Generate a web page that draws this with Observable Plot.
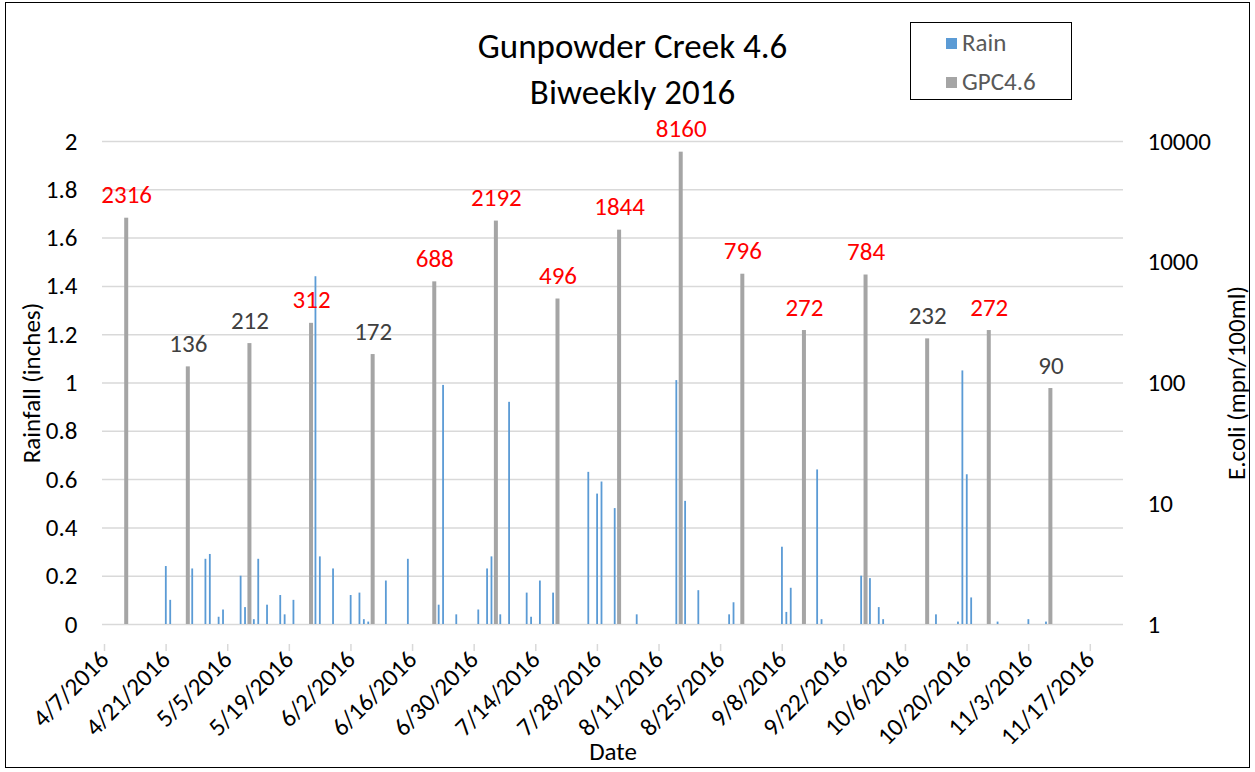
<!DOCTYPE html>
<html><head><meta charset="utf-8">
<script src="https://cdn.jsdelivr.net/npm/d3@7"></script>
<script src="https://cdn.jsdelivr.net/npm/@observablehq/plot@0.6"></script>
<style>
body{margin:0;background:#fff;font-family:Calibri,Carlito,Lato,sans-serif;}
#wrap{position:relative;width:1255px;height:772px;overflow:hidden;}
#frame{position:absolute;left:5px;top:2px;width:1245px;height:766px;border:1.5px solid #000;box-sizing:border-box;pointer-events:none;}
.title{position:absolute;left:0;width:1265px;text-align:center;font-size:35px;color:#000;line-height:35px;white-space:nowrap;}
#legend{position:absolute;left:910px;top:22px;width:162px;height:78px;border:1.5px solid #000;box-sizing:border-box;background:#fff;}
.sw{position:absolute;left:35px;width:11px;height:11px;}
.lt{position:absolute;left:51px;font-size:25px;color:#595959;line-height:26px;white-space:nowrap;}
.ylab{position:absolute;font-size:25px;color:#000;white-space:nowrap;line-height:26px;}
#plot{position:absolute;left:0;top:0;}
</style></head>
<body>
<div id="wrap">
  <div id="plot"></div>
  <div class="title" style="top:29px">Gunpowder Creek 4.6</div>
  <div class="title" style="top:75px">Biweekly 2016</div>
  <div id="legend">
    <div class="sw" style="top:15px;background:#5B9BD5"></div><div class="lt" style="top:7px">Rain</div>
    <div class="sw" style="top:54px;background:#A5A5A5"></div><div class="lt" style="top:46px">GPC4.6</div>
  </div>
  <div class="ylab" style="left:32px;top:383px;transform:translate(-50%,-50%) rotate(-90deg)">Rainfall (inches)</div>
  <div class="ylab" style="left:1237px;top:383px;transform:translate(-50%,-50%) rotate(-90deg)">E.coli (mpn/100ml)</div>
  <div class="ylab" style="left:613px;top:752px;transform:translate(-50%,-50%)">Date</div>
  <div id="frame"></div>
</div>
<script>
// Rainfall (inches), daily
const rainDates = ["2016-04-21","2016-04-22","2016-04-27","2016-04-30","2016-05-01","2016-05-03","2016-05-04","2016-05-08","2016-05-09","2016-05-11","2016-05-12","2016-05-14","2016-05-17","2016-05-18","2016-05-20","2016-05-25","2016-05-26","2016-05-29","2016-06-02","2016-06-04","2016-06-05","2016-06-06","2016-06-10","2016-06-15","2016-06-22","2016-06-23","2016-06-26","2016-07-01","2016-07-03","2016-07-04","2016-07-06","2016-07-08","2016-07-12","2016-07-13","2016-07-15","2016-07-18","2016-07-26","2016-07-28","2016-07-29","2016-08-01","2016-08-06","2016-08-15","2016-08-17","2016-08-20","2016-08-27","2016-08-28","2016-09-08","2016-09-09","2016-09-10","2016-09-16","2016-09-17","2016-09-26","2016-09-28","2016-09-30","2016-10-01","2016-10-13","2016-10-18","2016-10-19","2016-10-20","2016-10-21","2016-10-27","2016-11-03","2016-11-07"];
const rainValues = [0.24,0.10,0.23,0.27,0.29,0.03,0.06,0.20,0.07,0.02,0.27,0.08,0.12,0.04,0.10,1.44,0.28,0.23,0.12,0.13,0.02,0.01,0.18,0.27,0.08,0.99,0.04,0.06,0.23,0.28,0.04,0.92,0.13,0.03,0.18,0.13,0.63,0.54,0.59,0.48,0.04,1.01,0.51,0.14,0.04,0.09,0.32,0.05,0.15,0.64,0.02,0.20,0.19,0.07,0.02,0.04,0.01,1.05,0.62,0.11,0.01,0.02,0.01];
// GPC4.6 E.coli (mpn/100ml), biweekly samples
const sampleDates = ["2016-04-12","2016-04-26","2016-05-10","2016-05-24","2016-06-07","2016-06-21","2016-07-05","2016-07-19","2016-08-02","2016-08-16","2016-08-30","2016-09-13","2016-09-27","2016-10-11","2016-10-25","2016-11-08"];
const ecoliValues = [2316,136,212,312,172,688,2192,496,1844,8160,796,272,784,232,272,90];
const threshold = 235;
// Axis ticks
const xTickLabels = ["4/7/2016","4/21/2016","5/5/2016","5/19/2016","6/2/2016","6/16/2016","6/30/2016","7/14/2016","7/28/2016","8/11/2016","8/25/2016","9/8/2016","9/22/2016","10/6/2016","10/20/2016","11/3/2016","11/17/2016"];
const leftTicks = [0,0.2,0.4,0.6,0.8,1,1.2,1.4,1.6,1.8,2];
const rightTicks = [1,10,100,1000,10000];
const xDomain = ["2016-04-07","2016-11-25"];

const DAY = 86400000;
const parseMDY = s => { const [m,d,y] = s.split("/").map(Number); return new Date(Date.UTC(y,m-1,d)); };
const tickDates = xTickLabels.map(parseMDY);
const labelOf = new Map(tickDates.map((d,i)=>[+d, xTickLabels[i]]));
const rain = rainDates.map((d,i)=>({date:new Date(d), v:rainValues[i]}));
const samples = sampleDates.map((d,i)=>({date:new Date(d), v:ecoliValues[i]}));
// secondary (log) axis mapped onto the primary 0..2 range: 1 -> 0, 10000 -> 2
const toLeft = v => Math.log10(v) / 2;

const chart = Plot.plot({
  width: 1255, height: 772,
  marginLeft: 102, marginRight: 132, marginTop: 141, marginBottom: 148,
  style: {fontFamily: "Calibri, Carlito, Lato, sans-serif", fontSize: "24px", color: "#000", background: "transparent"},
  x: {type: "utc", domain: xDomain.map(d=>new Date(d))},
  y: {domain: [0, 2]},
  marks: [
    Plot.gridY(leftTicks.filter(d=>d>0), {stroke: "#D9D9D9", strokeOpacity: 1, strokeWidth: 1.5}),
    Plot.ruleY([0], {stroke: "#D9D9D9", strokeWidth: 1.5}),
    Plot.axisX(tickDates, {tickSize: 7, stroke: "#D9D9D9", strokeWidth: 1.5, tickRotate: -45, tickPadding: 4, dx: 2, dy: 20,
      tickFormat: d => labelOf.get(+d), fill: "#000", fontSize: 25, label: null}),
    Plot.axisY(leftTicks, {anchor: "left", tickSize: 0, tickPadding: 25, tickFormat: d => String(d), fill: "#000", fontSize: 25, label: null}),
    Plot.axisY(rightTicks.map(toLeft), {anchor: "right", tickSize: 0, tickPadding: 24,
      tickFormat: d => String(Math.round(Math.pow(10, 2*d))), fill: "#000", fontSize: 25, label: null}),
    Plot.rectY(samples, {x1: "date", x2: d => new Date(+d.date + DAY), y1: 0, y2: d => toLeft(d.v),
      fill: "#A5A5A5", insetLeft: 0.2, insetRight: 0.2}),
    Plot.rectY(rain, {x1: "date", x2: d => new Date(+d.date + DAY), y1: 0, y2: "v",
      fill: "#5B9BD5", insetLeft: 1.3, insetRight: 1.3}),
    Plot.text(samples, {x: d => new Date(+d.date + DAY/2), y: d => toLeft(d.v), text: d => String(d.v),
      dy: -23, fontSize: 25, fill: d => d.v > threshold ? "#FF0000" : "#404040"})
  ]
});
document.getElementById("plot").appendChild(chart);
</script>
</body></html>
